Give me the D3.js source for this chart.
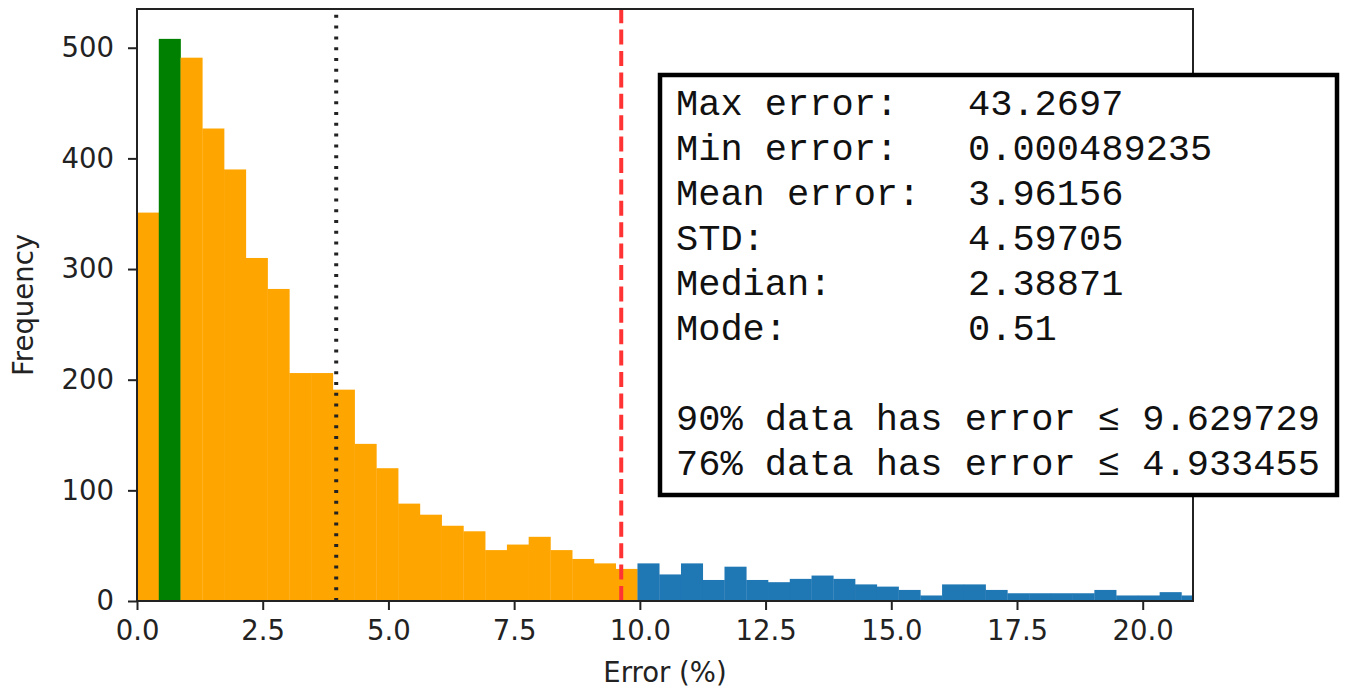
<!DOCTYPE html>
<html>
<head>
<meta charset="utf-8">
<script src="https://cdn.jsdelivr.net/npm/d3@7"></script>
<style>
  body { margin: 0; background: #fff; }
  svg { display: block; }
</style>
</head>
<body>
<svg id="chart" width="1347" height="691"></svg>
<script>
// histogram counts, 100 bins over [min error, max error], only the visible ones
const counts = [
  351, 508, 491, 427, 390, 310, 282, 206, 206, 191,
  142, 120, 88, 78, 68, 63, 46, 51, 58, 46,
  38, 34, 29, 34, 24, 34, 19, 31, 19, 17,
  20, 23, 20, 15, 13, 10, 5, 15, 15, 10,
  7, 7, 7, 7, 10, 5, 5, 8, 5
];
const nBins = 100;
const maxError = 43.2697;
const minError = 0.000489235;
const meanError = 3.96156;
const modeError = 0.51;
const p90 = 9.629729;

const xTicks = [0, 2.5, 5, 7.5, 10, 12.5, 15, 17.5, 20];
const yTicks = [0, 100, 200, 300, 400, 500];

const statLabels = ["Max error:", "Min error:", "Mean error:", "STD:", "Median:", "Mode:"];
const statValues = ["43.2697", "0.000489235", "3.96156", "4.59705", "2.38871", "0.51"];
const pctLines = ["90% data has error \u2264 9.629729", "76% data has error \u2264 4.933455"];

const margin = { top: 9, right: 154, bottom: 90, left: 137 };
const width = 1347, height = 691;

const svg = d3.select("#chart");

const x = d3.scaleLinear([0, 21], [margin.left, width - margin.right]);
const y = d3.scaleLinear([0, 535], [height - margin.bottom, margin.top]);

const binWidth = (maxError - minError) / nBins;
const bins = counts.map((c, i) => ({
  x0: minError + i * binWidth,
  x1: minError + (i + 1) * binWidth,
  count: c
}));

function binColor(d) {
  if (modeError >= d.x0 && modeError < d.x1) return "#008000";
  if (d.x0 < p90) return "#ffa500";
  return "#1f77b4";
}

svg.append("clipPath").attr("id", "plot-clip")
  .append("rect")
  .attr("x", x(0)).attr("y", y(535))
  .attr("width", x(21) - x(0)).attr("height", y(0) - y(535));

const plot = svg.append("g").attr("clip-path", "url(#plot-clip)");

plot.selectAll("rect.bar")
  .data(bins)
  .join("rect")
  .attr("class", "bar")
  .attr("x", d => x(d.x0))
  .attr("width", d => x(d.x1) - x(d.x0) + 0.3)
  .attr("y", d => y(d.count))
  .attr("height", d => y(0) - y(d.count))
  .attr("fill", binColor);

// mean line (dotted) and 90% line (dashed)
plot.append("line")
  .attr("x1", x(meanError)).attr("x2", x(meanError))
  .attr("y1", y(0)).attr("y2", y(535))
  .attr("stroke", "#222")
  .attr("stroke-width", 4)
  .attr("stroke-dasharray", "3,7.8");

plot.append("line")
  .attr("x1", x(p90)).attr("x2", x(p90))
  .attr("y1", y(0)).attr("y2", y(535))
  .attr("stroke", "#ff3333")
  .attr("stroke-width", 4)
  .attr("stroke-dasharray", "15,6.4");

// axes
const font = "DejaVu Sans, sans-serif";

const xAxis = svg.append("g")
  .attr("transform", `translate(0,${y(0)})`)
  .call(d3.axisBottom(x).tickValues(xTicks).tickFormat(d3.format(".1f")).tickSize(9).tickPadding(10).tickSizeOuter(0));

const yAxis = svg.append("g")
  .attr("transform", `translate(${x(0)},0)`)
  .call(d3.axisLeft(y).tickValues(yTicks).tickSize(9).tickPadding(14).tickSizeOuter(0));

[xAxis, yAxis].forEach(g => {
  g.select(".domain").remove();
  g.selectAll(".tick line").attr("stroke", "#222").attr("stroke-width", 2);
  g.selectAll(".tick text")
    .attr("fill", "#222")
    .style("font", `27.5px ${font}`);
});

// frame
svg.append("rect")
  .attr("x", x(0)).attr("y", y(535))
  .attr("width", x(21) - x(0)).attr("height", y(0) - y(535))
  .attr("fill", "none")
  .attr("stroke", "#222")
  .attr("stroke-width", 2);

svg.append("text")
  .attr("x", (x(0) + x(21)) / 2)
  .attr("y", 682)
  .attr("text-anchor", "middle")
  .attr("fill", "#222")
  .style("font", `27.5px ${font}`)
  .text("Error (%)");

svg.append("text")
  .attr("transform", `translate(33,${(y(0) + y(535)) / 2}) rotate(-90)`)
  .attr("text-anchor", "middle")
  .attr("fill", "#222")
  .style("font", `27.5px ${font}`)
  .text("Frequency");

// stats box
const box = svg.append("g");
box.append("rect")
  .attr("x", 660).attr("y", 75)
  .attr("width", 677).attr("height", 420)
  .attr("fill", "#fff")
  .attr("stroke", "#000")
  .attr("stroke-width", 4.5);

const mono = "Liberation Mono, DejaVu Sans Mono, monospace";
const rowY = i => 115 + i * 45;

box.selectAll("text.lab")
  .data(statLabels)
  .join("text")
  .attr("class", "lab")
  .attr("x", 676)
  .attr("y", (d, i) => rowY(i))
  .attr("fill", "#111")
  .style("font", `37px ${mono}`)
  .text(d => d);

box.selectAll("text.val")
  .data(statValues)
  .join("text")
  .attr("class", "val")
  .attr("x", 968)
  .attr("y", (d, i) => rowY(i))
  .attr("fill", "#111")
  .style("font", `37px ${mono}`)
  .text(d => d);

box.selectAll("text.pct")
  .data(pctLines)
  .join("text")
  .attr("class", "pct")
  .attr("x", 676)
  .attr("y", (d, i) => rowY(i + 7))
  .attr("fill", "#111")
  .style("font", `37px ${mono}`)
  .text(d => d);
</script>
</body>
</html>
